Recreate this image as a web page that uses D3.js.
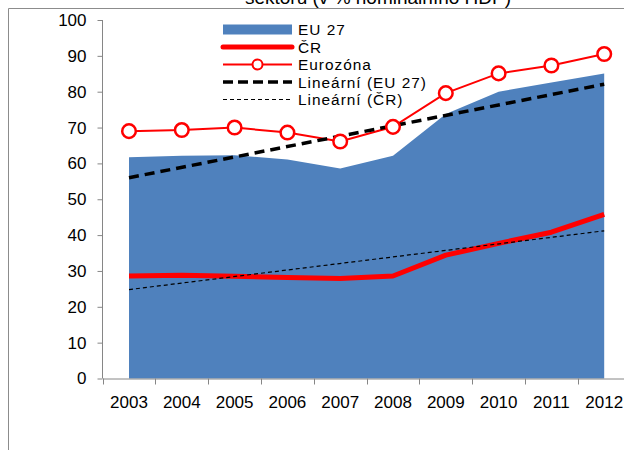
<!DOCTYPE html>
<html>
<head>
<meta charset="utf-8">
<script src="https://cdn.jsdelivr.net/npm/d3@7"></script>
<style>
  html, body { margin: 0; padding: 0; background: #fff; }
  svg { display: block; font-family: "Liberation Sans", Arial, sans-serif; }
</style>
</head>
<body>
<svg id="chart" width="624" height="450"></svg>
<script>
// ---- data ----
const years = ["2003","2004","2005","2006","2007","2008","2009","2010","2011","2012"];
const eu27 = [61.7, 62.1, 62.3, 61.1, 58.6, 62.1, 73.8, 80.0, 82.6, 85.1];
const cr = [28.6, 28.8, 28.5, 28.2, 27.9, 28.6, 34.4, 37.7, 40.8, 45.8];
const eurozona = [69.0, 69.3, 70.0, 68.6, 66.1, 70.2, 79.6, 85.1, 87.3, 90.5];
const trendYears = ["2003", "2012"];
const trendEU = [56.0, 82.1];
const trendCR = [24.8, 41.2];
const yTicks = [0, 10, 20, 30, 40, 50, 60, 70, 80, 90, 100];
const legendLabels = ["EU 27", "ČR", "Eurozóna", "Lineární (EU 27)", "Lineární (ČR)"];
const titleText = "sektoru (v % nominálního HDP)";

// ---- setup ----
const svg = d3.select("#chart");
const x = d3.scaleBand().domain(years).range([102.6, 630.6]).padding(0);
const cx = d => x(d) + x.bandwidth() / 2;
const y = d3.scaleLinear().domain([0, 100]).range([378.5, 20]);

const BLUE = "#4F81BD", RED = "#FF0000", AXIS = "#868686";

// frame & title (title is cropped at the top, as in the reference)
svg.append("text").attr("x", 378).attr("y", 4).attr("text-anchor", "middle")
  .attr("font-size", 19).attr("fill", "#000").text(titleText);
svg.append("path").attr("d", "M8.5,450 V8.5 H624").attr("fill", "none")
  .attr("stroke", "#8c8c8c").attr("stroke-width", 1);

// area EU 27
const area = d3.area().x((d, i) => cx(years[i])).y0(y(0)).y1(d => y(d));
svg.append("path").datum(eu27).attr("d", area).attr("fill", BLUE);

// axes
const yAxis = d3.axisLeft(y).tickValues(yTicks).tickSize(5).tickPadding(11);
const gy = svg.append("g").attr("transform", "translate(102.5,0)").call(yAxis);
gy.select(".domain").attr("stroke", AXIS).attr("d", `M-0,${y(0)}V${y(100)}`);
gy.selectAll(".tick line").attr("stroke", AXIS);
gy.selectAll("text").attr("font-size", 17).attr("fill", "#000")
  .attr("font-family", "Liberation Sans, Arial, sans-serif");

const xAxis = d3.axisBottom(x).tickSize(0).tickPadding(17.5).tickSizeOuter(0);
const gx = svg.append("g").attr("transform", `translate(0,${y(0)})`).call(xAxis);
gx.select(".domain").attr("stroke", AXIS);
gx.selectAll("text").attr("font-size", 17).attr("fill", "#000")
  .attr("font-family", "Liberation Sans, Arial, sans-serif");
const bounds = years.map(d => x(d)).concat([x(years[years.length - 1]) + x.bandwidth()]);
gx.selectAll(".btick").data(bounds).enter().append("line")
  .attr("x1", d => Math.round(d) + 0.5).attr("x2", d => Math.round(d) + 0.5)
  .attr("y1", 0).attr("y2", 6).attr("stroke", AXIS);

// lines
const line = d3.line().x((d, i) => cx(years[i])).y(d => y(d));
const tline = d3.line().x((d, i) => cx(trendYears[i])).y(d => y(d));

svg.append("path").datum(cr).attr("d", line).attr("fill", "none")
  .attr("stroke", RED).attr("stroke-width", 5).attr("stroke-linejoin", "round");

svg.append("path").datum(eurozona).attr("d", line).attr("fill", "none")
  .attr("stroke", RED).attr("stroke-width", 2);

svg.append("path").datum(trendEU).attr("d", tline).attr("fill", "none")
  .attr("stroke", "#000").attr("stroke-width", 3.5).attr("stroke-dasharray", "10,6");
svg.append("path").datum(trendCR).attr("d", tline).attr("fill", "none")
  .attr("stroke", "#000").attr("stroke-width", 1.2).attr("stroke-dasharray", "4,3");

svg.selectAll(".ez").data(eurozona).enter().append("circle")
  .attr("cx", (d, i) => cx(years[i])).attr("cy", d => y(d)).attr("r", 6.8)
  .attr("fill", "#fff").attr("stroke", RED).attr("stroke-width", 2.5);

// legend
const lg = svg.append("g");
const lx0 = 223, lx1 = 292, tx = 298;
const rowY = [29.5, 47, 64.5, 82, 99.5];
lg.append("rect").attr("x", lx0).attr("y", rowY[0] - 5).attr("width", lx1 - lx0).attr("height", 10).attr("fill", BLUE);
lg.append("line").attr("x1", lx0).attr("x2", lx1).attr("y1", rowY[1]).attr("y2", rowY[1])
  .attr("stroke", RED).attr("stroke-width", 5).attr("stroke-linecap", "round");
lg.append("line").attr("x1", lx0).attr("x2", lx1).attr("y1", rowY[2]).attr("y2", rowY[2])
  .attr("stroke", RED).attr("stroke-width", 2);
lg.append("circle").attr("cx", (lx0 + lx1) / 2).attr("cy", rowY[2]).attr("r", 5)
  .attr("fill", "#fff").attr("stroke", RED).attr("stroke-width", 2);
lg.append("line").attr("x1", lx0).attr("x2", lx1).attr("y1", rowY[3]).attr("y2", rowY[3])
  .attr("stroke", "#000").attr("stroke-width", 3.5).attr("stroke-dasharray", "10,5");
lg.append("line").attr("x1", lx0).attr("x2", lx1).attr("y1", rowY[4]).attr("y2", rowY[4])
  .attr("stroke", "#000").attr("stroke-width", 1).attr("stroke-dasharray", "4,3");
lg.selectAll(".lt").data(legendLabels).enter().append("text")
  .attr("x", tx).attr("y", (d, i) => rowY[i]).attr("dy", "0.36em")
  .attr("font-size", 15.4).attr("letter-spacing", "1px").attr("fill", "#000")
  .text(d => d);
</script>
</body>
</html>
